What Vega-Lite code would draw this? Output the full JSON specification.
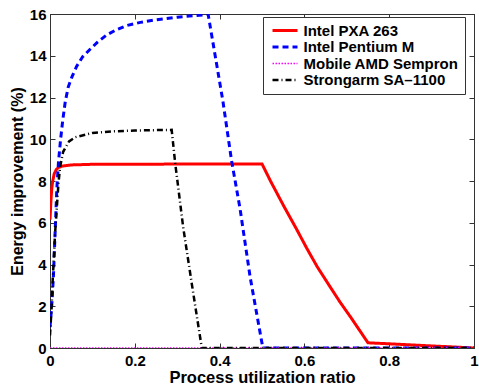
{
  "$schema": "https://vega.github.io/schema/vega-lite/v6.json",
  "width": 424,
  "height": 334,
  "autosize": {"type": "none"},
  "padding": {"left": 50, "top": 14, "right": 5, "bottom": 39},
  "background": "white",
  "config": {
    "font": "Liberation Sans",
    "view": {"stroke": "#333333", "strokeWidth": 1}
  },
  "data": {
    "values": [
      {"s": "Intel PXA 263", "u": 0, "e": 6.15},
      {"s": "Intel PXA 263", "u": 0.002, "e": 7.0},
      {"s": "Intel PXA 263", "u": 0.004, "e": 7.6},
      {"s": "Intel PXA 263", "u": 0.006, "e": 7.95},
      {"s": "Intel PXA 263", "u": 0.01, "e": 8.35},
      {"s": "Intel PXA 263", "u": 0.015, "e": 8.55},
      {"s": "Intel PXA 263", "u": 0.02, "e": 8.65},
      {"s": "Intel PXA 263", "u": 0.03, "e": 8.72},
      {"s": "Intel PXA 263", "u": 0.05, "e": 8.77},
      {"s": "Intel PXA 263", "u": 0.1, "e": 8.8},
      {"s": "Intel PXA 263", "u": 0.5, "e": 8.82},
      {"s": "Intel PXA 263", "u": 0.52, "e": 8.0},
      {"s": "Intel PXA 263", "u": 0.55, "e": 6.85},
      {"s": "Intel PXA 263", "u": 0.58, "e": 5.75},
      {"s": "Intel PXA 263", "u": 0.605, "e": 4.8},
      {"s": "Intel PXA 263", "u": 0.63, "e": 3.9},
      {"s": "Intel PXA 263", "u": 0.66, "e": 2.95},
      {"s": "Intel PXA 263", "u": 0.684, "e": 2.2},
      {"s": "Intel PXA 263", "u": 0.71, "e": 1.45},
      {"s": "Intel PXA 263", "u": 0.731, "e": 0.82},
      {"s": "Intel PXA 263", "u": 0.75, "e": 0.25},
      {"s": "Intel PXA 263", "u": 1.0, "e": 0.0},
      {"s": "Intel Pentium M", "u": 0, "e": 1.0},
      {"s": "Intel Pentium M", "u": 0.004, "e": 2.0},
      {"s": "Intel Pentium M", "u": 0.008, "e": 3.4},
      {"s": "Intel Pentium M", "u": 0.012, "e": 5.5},
      {"s": "Intel Pentium M", "u": 0.016, "e": 7.6},
      {"s": "Intel Pentium M", "u": 0.02, "e": 8.9},
      {"s": "Intel Pentium M", "u": 0.025, "e": 10.0},
      {"s": "Intel Pentium M", "u": 0.03, "e": 10.9},
      {"s": "Intel Pentium M", "u": 0.036, "e": 11.8},
      {"s": "Intel Pentium M", "u": 0.043, "e": 12.5},
      {"s": "Intel Pentium M", "u": 0.052, "e": 13.0},
      {"s": "Intel Pentium M", "u": 0.063, "e": 13.5},
      {"s": "Intel Pentium M", "u": 0.077, "e": 13.95},
      {"s": "Intel Pentium M", "u": 0.094, "e": 14.3},
      {"s": "Intel Pentium M", "u": 0.112, "e": 14.65},
      {"s": "Intel Pentium M", "u": 0.134, "e": 15.0},
      {"s": "Intel Pentium M", "u": 0.157, "e": 15.25},
      {"s": "Intel Pentium M", "u": 0.181, "e": 15.45},
      {"s": "Intel Pentium M", "u": 0.213, "e": 15.6},
      {"s": "Intel Pentium M", "u": 0.248, "e": 15.72},
      {"s": "Intel Pentium M", "u": 0.3, "e": 15.85},
      {"s": "Intel Pentium M", "u": 0.373, "e": 15.98},
      {"s": "Intel Pentium M", "u": 0.408, "e": 11.8},
      {"s": "Intel Pentium M", "u": 0.428, "e": 9.0},
      {"s": "Intel Pentium M", "u": 0.448, "e": 6.7},
      {"s": "Intel Pentium M", "u": 0.472, "e": 3.4},
      {"s": "Intel Pentium M", "u": 0.502, "e": 0.0},
      {"s": "Intel Pentium M", "u": 1.0, "e": 0.0},
      {"s": "Mobile AMD Sempron", "u": 0, "e": 0.0},
      {"s": "Mobile AMD Sempron", "u": 1.0, "e": 0.0},
      {"s": "Strongarm SA–1100", "u": 0, "e": 0.6},
      {"s": "Strongarm SA–1100", "u": 0.004, "e": 2.0},
      {"s": "Strongarm SA–1100", "u": 0.006, "e": 3.1},
      {"s": "Strongarm SA–1100", "u": 0.012, "e": 5.5},
      {"s": "Strongarm SA–1100", "u": 0.02, "e": 7.9},
      {"s": "Strongarm SA–1100", "u": 0.024, "e": 8.7},
      {"s": "Strongarm SA–1100", "u": 0.031, "e": 9.4},
      {"s": "Strongarm SA–1100", "u": 0.045, "e": 9.9},
      {"s": "Strongarm SA–1100", "u": 0.06, "e": 10.1},
      {"s": "Strongarm SA–1100", "u": 0.1, "e": 10.3},
      {"s": "Strongarm SA–1100", "u": 0.15, "e": 10.38},
      {"s": "Strongarm SA–1100", "u": 0.2, "e": 10.42},
      {"s": "Strongarm SA–1100", "u": 0.287, "e": 10.45},
      {"s": "Strongarm SA–1100", "u": 0.295, "e": 8.9},
      {"s": "Strongarm SA–1100", "u": 0.314, "e": 5.8},
      {"s": "Strongarm SA–1100", "u": 0.335, "e": 3.0},
      {"s": "Strongarm SA–1100", "u": 0.358, "e": 0.0},
      {"s": "Strongarm SA–1100", "u": 1.0, "e": 0.0}
    ]
  },
  "layer": [
    {
      "mark": {"type": "line", "clip": true, "strokeCap": "butt"},
      "encoding": {
        "x": {
          "field": "u", "type": "quantitative",
          "scale": {"domain": [0, 1], "nice": false, "zero": false},
          "axis": {
            "orient": "bottom", "values": [0, 0.2, 0.4, 0.6, 0.8, 1], "format": "~g",
            "grid": false, "tickSize": -5, "labelPadding": 10, "labelFlush": false, "labelOverlap": false,
            "labelFontSize": 15, "labelFontWeight": "bold", "labelColor": "black",
            "domainColor": "#333333", "tickColor": "#333333",
            "title": "Process utilization ratio", "titleFontSize": 16.5, "titleFontWeight": "bold",
            "titleColor": "black", "titlePadding": 1.5
          }
        },
        "y": {
          "field": "e", "type": "quantitative",
          "scale": {"domain": [0, 16], "nice": false},
          "axis": {
            "orient": "left", "values": [0, 2, 4, 6, 8, 10, 12, 14, 16],
            "grid": false, "tickSize": -5, "labelPadding": 9, "labelOverlap": false,
            "labelFontSize": 15, "labelFontWeight": "bold", "labelColor": "black",
            "domainColor": "#333333", "tickColor": "#333333",
            "title": "Energy improvement (%)", "titleFontSize": 16, "titleFontWeight": "bold",
            "titleColor": "black", "titlePadding": 4
          }
        },
        "color": {
          "field": "s", "type": "nominal",
          "scale": {
            "domain": ["Intel PXA 263", "Intel Pentium M", "Mobile AMD Sempron", "Strongarm SA–1100"],
            "range": ["#ff0000", "#0000ff", "#ff00ff", "#000000"]
          },
          "legend": {
            "title": null, "orient": "none", "legendX": 213, "legendY": 3,
            "strokeColor": "#333333", "fillColor": "white", "padding": 6,
            "symbolType": "M-2.5,0H2.5", "symbolSize": 100, "symbolOffset": 8.5,
            "labelOffset": 11, "labelFontSize": 15, "labelFontWeight": "bold",
            "labelColor": "black", "labelLimit": 300, "rowPadding": 0.5
          }
        },
        "strokeDash": {
          "field": "s", "type": "nominal",
          "scale": {
            "domain": ["Intel PXA 263", "Intel Pentium M", "Mobile AMD Sempron", "Strongarm SA–1100"],
            "range": [[1, 0], [6, 4], [1.5, 1.5], [6, 3, 1, 3]]
          }
        },
        "strokeWidth": {
          "field": "s", "type": "nominal",
          "scale": {
            "type": "ordinal",
            "domain": ["Intel PXA 263", "Intel Pentium M", "Mobile AMD Sempron", "Strongarm SA–1100"],
            "range": [3, 3, 1.5, 2.5]
          }
        }
      }
    },
    {
      "mark": {"type": "line", "opacity": 0},
      "encoding": {
        "x": {
          "field": "u", "type": "quantitative",
          "axis": {
            "orient": "top", "values": [0, 0.2, 0.4, 0.6, 0.8, 1], "labels": false, "title": null,
            "grid": false, "tickSize": -5, "domainColor": "#333333", "tickColor": "#333333"
          }
        },
        "y": {
          "field": "e", "type": "quantitative",
          "axis": {
            "orient": "right", "values": [0, 2, 4, 6, 8, 10, 12, 14, 16], "labels": false, "title": null,
            "grid": false, "tickSize": -5, "domainColor": "#333333", "tickColor": "#333333"
          }
        }
      }
    }
  ],
  "resolve": {"axis": {"x": "independent", "y": "independent"}}
}
